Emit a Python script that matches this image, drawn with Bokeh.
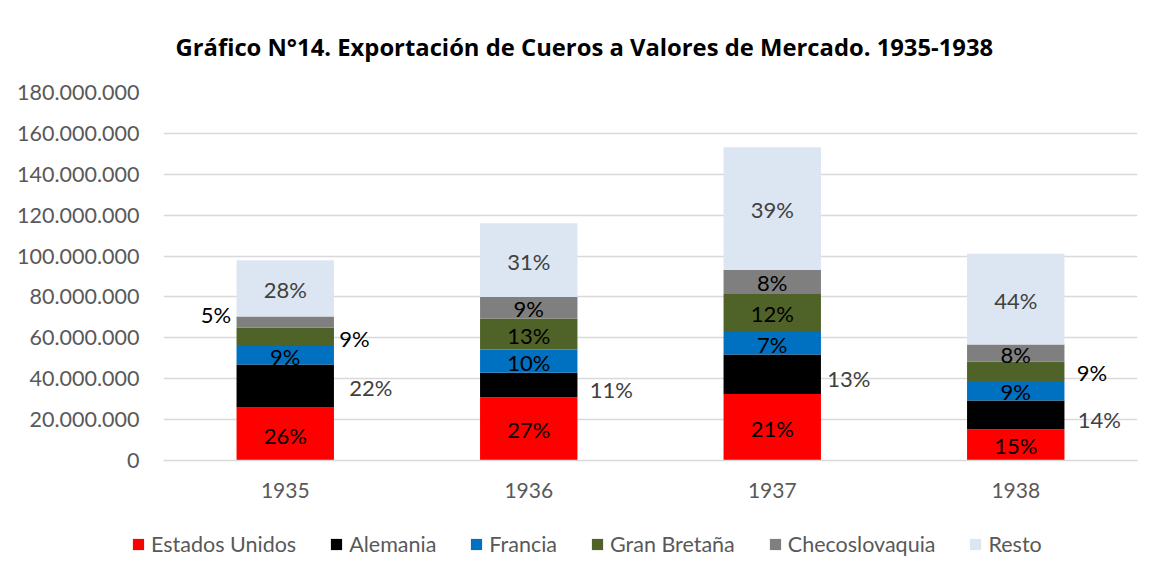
import numpy as np
from bokeh.plotting import figure
from bokeh.models import (ColumnDataSource, Legend, LegendItem, FixedTicker,
                          CustomJSTickFormatter, Range1d, FactorRange)
from bokeh.core.properties import value
from bokeh.embed import file_html
from bokeh.resources import INLINE

# ---------------- data ----------------
years = ["1935", "1936", "1937", "1938"]
series = ["Estados Unidos", "Alemania", "Francia", "Gran Bretaña", "Checoslovaquia", "Resto"]

estados_unidos = [25_900_000, 30_900_000, 32_500_000, 15_300_000]
alemania       = [21_100_000, 12_000_000, 19_400_000, 14_000_000]
francia        = [9_000_000, 11_400_000, 10_900_000, 9_600_000]
gran_bretana   = [9_000_000, 15_100_000, 18_700_000, 9_400_000]
checoslovaquia = [5_400_000, 10_600_000, 11_800_000, 8_400_000]
resto          = [27_600_000, 36_100_000, 59_900_000, 44_400_000]

pct_estados_unidos = ["26%", "27%", "21%", "15%"]
pct_alemania       = ["22%", "11%", "13%", "14%"]
pct_francia        = ["9%", "10%", "7%", "9%"]
pct_gran_bretana   = ["9%", "13%", "12%", "9%"]
pct_checoslovaquia = ["5%", "9%", "8%", "8%"]
pct_resto          = ["28%", "31%", "39%", "44%"]

y_ticks = [0, 20_000_000, 40_000_000, 60_000_000, 80_000_000, 100_000_000,
           120_000_000, 140_000_000, 160_000_000, 180_000_000]

title_text = "Gráfico N°14. Exportación de Cueros a Valores de Mercado. 1935-1938"

# ---------------- style ----------------
FONT = "Lato"
colors = ["#FF0000", "#000000", "#0070C0", "#4F6228", "#7F7F7F", "#DCE6F2"]
keys = ["eu", "al", "fr", "gb", "ch", "re"]
vals = [estados_unidos, alemania, francia, gran_bretana, checoslovaquia, resto]
pcts = [pct_estados_unidos, pct_alemania, pct_francia, pct_gran_bretana,
        pct_checoslovaquia, pct_resto]

# label placement: (series index, year index) -> (mode, x_offset px, y_offset px, color)
placement = {
    (1, 0): ("right", 64, 2, "#404040"),
    (1, 1): ("right", 61, 4, "#404040"),
    (1, 2): ("right", 55, 4, "#404040"),
    (1, 3): ("right", 62, 5, "#404040"),
    (3, 0): ("right", 54, 2, "#000000"),
    (3, 3): ("right", 61, 1, "#000000"),
    (4, 0): ("left", -54, -8, "#000000"),
}

data = {"years": years}
for k, v in zip(keys, vals):
    data[k] = v
src = ColumnDataSource(data)

W = 1164
H_MAIN = 520
H_LEG = 62

p = figure(x_range=FactorRange(*years), y_range=Range1d(0, 180_000_000),
           width=W, height=H_MAIN, output_backend="svg", toolbar_location=None,
           min_border_left=163, min_border_right=27, min_border_top=91,
           min_border_bottom=60, background_fill_color="white",
           border_fill_color="white")
p.outline_line_color = None

renderers = p.vbar_stack(keys, x="years", width=0.4, color=colors, source=src,
                         line_color=None)

# labels
arr = np.array(vals, dtype=float)
cum = np.cumsum(arr, axis=0)
mid = cum - arr / 2.0
lx, ly, lt, lc, la, lxo, lyo = [], [], [], [], [], [], []
for si in range(len(series)):
    for yi in range(len(years)):
        lx.append(years[yi])
        ly.append(mid[si, yi])
        lt.append(pcts[si][yi])
        if (si, yi) in placement:
            mode, xo, yo, col = placement[(si, yi)]
            la.append("left" if mode == "right" else "right")
            lxo.append(xo)
            lyo.append(yo)
            lc.append(col)
        else:
            la.append("center")
            lxo.append(0)
            lyo.append(1)
            lc.append("#404040" if si == 5 else "#000000")
lsrc = ColumnDataSource(dict(x=lx, y=ly, text=lt, color=lc, align=la, xo=lxo, yo=lyo))
p.text(x="x", y="y", text="text", source=lsrc, text_color="color", text_align="align",
       text_baseline="middle", x_offset="xo", y_offset="yo",
       text_font=value(FONT), text_font_size="22px")

# axes
p.yaxis.ticker = FixedTicker(ticks=y_ticks)
p.yaxis.formatter = CustomJSTickFormatter(code="""
return Math.round(tick).toString().replace(/\\B(?=(\\d{3})+(?!\\d))/g, '.');
""")
p.yaxis.axis_line_color = None
p.yaxis.major_tick_line_color = None
p.yaxis.major_tick_out = 0
p.yaxis.major_tick_in = 0
p.yaxis.minor_tick_line_color = None
p.yaxis.major_label_standoff = 24
p.yaxis.major_label_text_font = FONT
p.yaxis.major_label_text_font_size = "21.5px"
p.yaxis.major_label_text_color = "#595959"

p.xaxis.axis_line_color = "#D9D9D9"
p.xaxis.axis_line_width = 1.5
p.xaxis.major_tick_line_color = None
p.xaxis.major_tick_out = 0
p.xaxis.major_tick_in = 0
p.xaxis.minor_tick_line_color = None
p.xaxis.major_label_standoff = 22
p.xaxis.major_label_text_font = FONT
p.xaxis.major_label_text_font_size = "21px"
p.xaxis.major_label_text_color = "#595959"

p.xgrid.grid_line_color = None
p.ygrid.grid_line_color = "#D9D9D9"
p.ygrid.grid_line_width = 1.5

# title
p.title.text = title_text
p.title.align = "left"
p.title.vertical_align = "middle"
p.title.offset = 12
p.title.standoff = 58
p.title.text_font = "Open Sans"
p.title.text_font_size = "23.8px"
p.title.text_font_style = "bold"
p.title.text_color = "#000000"

# ---------------- legend strip ----------------
lg = figure(x_range=FactorRange(*years), y_range=Range1d(-2, -1),
            width=W, height=H_LEG, output_backend="svg", toolbar_location=None,
            min_border=0, x_axis_location=None, y_axis_location=None,
            background_fill_color="white", border_fill_color="white")
lg.outline_line_color = None
lg.grid.grid_line_color = None
lg_renderers = lg.vbar_stack(keys, x="years", width=0.4, color=colors, source=src,
                             line_color=None)
for r in lg_renderers:
    r.visible = False
items = [LegendItem(label=s, renderers=[r]) for s, r in zip(series, lg_renderers)]
legend = Legend(items=items, orientation="horizontal", location=(131, 25),
                glyph_width=14, glyph_height=14, label_standoff=6, spacing=33,
                padding=0, margin=0, border_line_color=None, background_fill_alpha=0,
                inactive_fill_alpha=0, click_policy="none",
                label_text_font=FONT, label_text_font_size="21.5px",
                label_height=14, label_text_color="#595959")
lg.add_layout(legend, "center")

open("out.html", "w").write(file_html([p, lg], INLINE))
